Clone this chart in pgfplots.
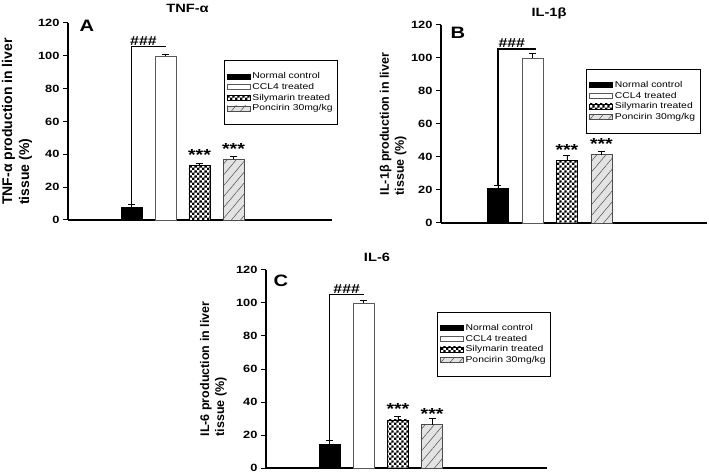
\documentclass[border=0pt]{standalone}
\usepackage{fontspec}
\setmainfont{Liberation Sans}
\newfontfamily\ylfont{Liberation Sans}
\usepackage{graphicx}
\usepackage{pgfplots}
\pgfplotsset{compat=1.18}
\usetikzlibrary{patterns,patterns.meta}

% the reference is stretched sideways: widen horizontal text to match
\newcommand{\wx}[1]{\scalebox{1.22}[1]{#1}}

% fine checker pattern as in the reference
\pgfdeclarepatternformonly{finechecker}{\pgfpointorigin}{\pgfqpoint{4.8pt}{4.8pt}}{\pgfqpoint{4.8pt}{4.8pt}}{%
  \pgfpathrectangle{\pgfpointorigin}{\pgfqpoint{2.4pt}{2.4pt}}%
  \pgfpathrectangle{\pgfqpoint{2.4pt}{2.4pt}}{\pgfqpoint{2.4pt}{2.4pt}}%
  \pgfusepath{fill}}

\tikzset{
  stars/.style={font=\bfseries\fontsize{16}{16}\selectfont, inner sep=0pt},
  hashes/.style={font=\bfseries\fontsize{13}{13}\selectfont, anchor=south, inner sep=1pt},
}

\pgfplotsset{
  panel/.style={
    scale only axis,
    axis lines=left,
    axis line style={-, line width=1.8pt},
    ymin=0, ymax=120, ytick={0,20,...,120},
    xtick=\empty,
    tick align=outside,
    major tick length=5pt,
    tick style={line width=1pt, black},
    yticklabel={\wx{\pgfmathprintnumber{\tick}}},
    yticklabel style={font=\bfseries\fontsize{10.5}{12}\selectfont},
    /pgf/number format/assume math mode=true,
    clip=false,
    ybar, bar width=21pt, bar shift=0pt,
    legend style={draw=black, line width=0.5pt, anchor=north east,
      font=\fontsize{8.5}{10}\selectfont, legend cell align=left,
      inner xsep=3pt, inner ysep=10pt, row sep=-1pt},
    legend image code/.code={\draw[##1] (0pt,-2.5pt) rectangle (23pt,2.5pt);},
    ylabel style={align=left, anchor=center},
    error bars/y dir=plus, error bars/y explicit,
    error bars/error mark options={rotate=90, mark size=3.5pt, line width=0.6pt, black},
    error bars/error bar style={line width=0.6pt, black},
  },
  nc/.style={fill=black, draw=black, line width=0.6pt},
  ccl/.style={fill=white, draw=gray!70!black, line width=0.6pt},
  sily/.style={fill=white, draw=black, line width=0.6pt,
    postaction={pattern=finechecker, pattern color=black}},
  ponc/.style={fill=gray!22, draw=gray!60!black, line width=0.6pt,
    postaction={pattern={Lines[angle=50,distance=7pt,line width=0.5pt]}, pattern color=gray!60!black}},
}

\newcommand{\groups}{\legend{\wx{Normal control}, \wx{CCL4 treated}, \wx{Silymarin treated}, \wx{Poncirin 30mg/kg}}}

\begin{document}
\begin{tikzpicture}
\useasboundingbox (0,0) rectangle (709pt,474pt);

% A: TNF-alpha
\begin{axis}[panel, at={(68pt,254pt)}, anchor=south west,
  width=264pt, height=197pt, xmin=-0.87, xmax=6.9,
  ylabel={TNF-α production in liver\\tissue (\%)},
  ylabel style={font=\ylfont\bfseries\fontsize{14}{17}\selectfont, at={(axis description cs:-0.193,0.5)}},
  legend style={at={(axis description cs:1.022,0.81)}}]
\addplot[nc] coordinates {(1,7.8) +- (0,1.6)};
\addplot[ccl] coordinates {(2,100) +- (0,0.8)};
\addplot[sily] coordinates {(3,33.5) +- (0,1.1)};
\addplot[ponc] coordinates {(4,37) +- (0,1.5)};
\groups
\draw[line width=1.3pt] (axis cs:1,9.6) |- (axis cs:2,105.5);
\node[hashes] at (axis cs:1.35,105.5) {\wx{\#\#\#}};
\node[stars] at (axis cs:3,39.5) {\wx{***}};
\node[stars] at (axis cs:4,43) {\wx{***}};
\end{axis}

% B: IL-1beta
\begin{axis}[panel, at={(441pt,251pt)}, anchor=south west,
  width=266pt, height=198pt, xmin=-0.65, xmax=7.06,
  ylabel={IL-1β production in liver\\tissue (\%)},
  ylabel style={font=\ylfont\bfseries\fontsize{12.5}{15}\selectfont, at={(axis description cs:-0.18,0.5)}},
  legend style={at={(axis description cs:0.975,0.778)}}]
\addplot[nc] coordinates {(1,21) +- (0,2)};
\addplot[ccl] coordinates {(2,100) +- (0,3)};
\addplot[sily] coordinates {(3,38) +- (0,3)};
\addplot[ponc] coordinates {(4,41.5) +- (0,2)};
\groups
\draw[line width=1.3pt] (axis cs:1,23) |- (axis cs:2.1,105.5);
\node[hashes] at (axis cs:1.4,105.5) {\wx{\#\#\#}};
\node[stars] at (axis cs:3,44.5) {\wx{***}};
\node[stars] at (axis cs:4,48) {\wx{***}};
\end{axis}

% C: IL-6
\begin{axis}[panel, at={(266pt,6pt)}, anchor=south west,
  width=281pt, height=198pt, xmin=-0.86, xmax=7.36,
  ylabel={IL-6 production in liver\\tissue (\%)},
  ylabel style={font=\ylfont\bfseries\fontsize{12.5}{15}\selectfont, at={(axis description cs:-0.187,0.5)}},
  legend style={at={(axis description cs:1.014,0.788)}}]
\addplot[nc] coordinates {(1,14.5) +- (0,2.2)};
\addplot[ccl] coordinates {(2,100) +- (0,1.8)};
\addplot[sily] coordinates {(3,29.2) +- (0,2)};
\addplot[ponc] coordinates {(4,26.2) +- (0,4)};
\groups
\draw[line width=1.3pt] (axis cs:1,16.7) |- (axis cs:2,105);
\node[hashes] at (axis cs:1.5,105) {\wx{\#\#\#}};
\node[stars] at (axis cs:3,35.8) {\wx{***}};
\node[stars] at (axis cs:4,32.8) {\wx{***}};
\end{axis}

% titles and panel letters
\node[font=\bfseries\fontsize{12}{12}\selectfont] at (187.5pt,465.5pt) {\wx{TNF-α}};
\node[font=\bfseries\fontsize{12}{12}\selectfont] at (549pt,461pt) {\wx{IL-1β}};
\node[font=\bfseries\fontsize{12}{12}\selectfont] at (377pt,217pt) {\wx{IL-6}};
\node[font=\bfseries\fontsize{16.5}{16}\selectfont] at (87pt,448pt) {\wx{A}};
\node[font=\bfseries\fontsize{16.5}{16}\selectfont] at (458pt,441.5pt) {\wx{B}};
\node[font=\bfseries\fontsize{16.5}{16}\selectfont] at (281pt,193pt) {\wx{C}};
\end{tikzpicture}
\end{document}
